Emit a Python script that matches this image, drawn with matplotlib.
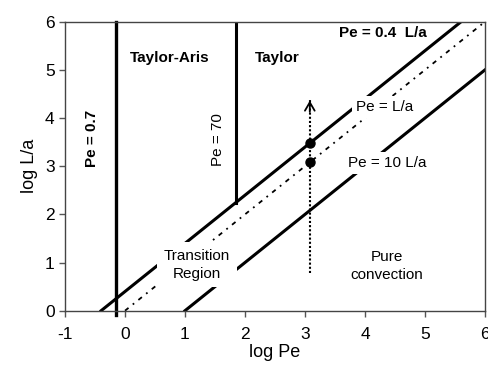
import numpy as np
import matplotlib
matplotlib.use('Agg')
import matplotlib.pyplot as plt

plt.rcParams['font.family'] = ['Liberation Sans', 'DejaVu Sans']
plt.rcParams['axes.unicode_minus'] = False

# boundary lines (log Pe = log L/a + log c)
pe_vertical = [0.7, 70]          # Pe = const boundaries
ratio_lines = [0.4, 1.0, 10.0]   # Pe = c * L/a
arrow_x = 3.08
arrow_y = [0.78, 4.37]
points_y = [3.48, 3.08]

xlim = (-1, 6)
ylim = (0, 6)

fig = plt.figure(figsize=(4.89, 3.69), dpi=100)
ax = fig.add_axes([65 / 489, 1 - 310.7 / 369, 420 / 489, 289 / 369])

# Pe = 0.4 L/a
c = -np.log10(ratio_lines[0])
ax.plot([-c, ylim[1] - c], [0, ylim[1]], color='black', lw=2.2, zorder=2)
# Pe = L/a
c1 = -np.log10(ratio_lines[1])
ax.plot([-c1, 6], [0, 6 + c1], color='black', lw=1.3, ls=(0, (2.5, 3, 1, 3)), zorder=2)
# Pe = 10 L/a
c10 = -np.log10(ratio_lines[2])
ax.plot([-c10, 6], [0, 6 + c10], color='black', lw=2.2, zorder=2)

# vertical Pe = 0.7 and Pe = 70
xv1 = np.log10(pe_vertical[0])
ax.plot([xv1, xv1], [-0.08, 6], color='black', lw=2.4, zorder=2, clip_on=False)
xv2 = np.log10(pe_vertical[1])
ax.plot([xv2, xv2], [xv2 + c, 6], color='black', lw=2.2, zorder=2)

# dotted arrow
ax.plot([arrow_x, arrow_x], arrow_y, color='black', lw=1.5, ls=(0, (1, 1)), zorder=3)
ax.annotate('', xy=(arrow_x, arrow_y[1] + 0.05), xytext=(arrow_x, arrow_y[1] - 0.3),
            arrowprops=dict(arrowstyle='->,head_length=0.6,head_width=0.35',
                            color='black', lw=1.3), zorder=3)
ax.plot([arrow_x] * len(points_y), points_y, 'o', color='black', ms=6.5, zorder=4)

fs = 11
ax.text(0.75, 5.24, 'Taylor-Aris', ha='center', va='center', fontsize=fs,
        fontweight='bold')
ax.text(2.53, 5.24, 'Taylor', ha='center', va='center', fontsize=fs,
        fontweight='bold')
ax.text(-0.55, 3.58, 'Pe = 0.7', ha='center', va='center', fontsize=fs,
        fontweight='bold', rotation=90)
ax.text(1.55, 3.55, 'Pe = 70', ha='center', va='center', fontsize=fs,
        rotation=90)
ax.text(1.2, 0.95, 'Transition\nRegion', ha='center', va='center', fontsize=fs,
        linespacing=1.3, zorder=5,
        bbox=dict(facecolor='white', edgecolor='none', pad=5))
ax.text(4.37, 0.93, 'Pure\nconvection', ha='center', va='center', fontsize=fs,
        linespacing=1.3, zorder=5)
ax.text(4.37, 3.06, 'Pe = 10 L/a', ha='center', va='center', fontsize=fs,
        zorder=5, bbox=dict(facecolor='white', edgecolor='none', pad=3))
ax.text(4.33, 4.23, 'Pe = L/a', ha='center', va='center', fontsize=fs,
        zorder=5, bbox=dict(facecolor='white', edgecolor='none', pad=3))
ax.text(4.3, 5.76, 'Pe = 0.4  L/a', ha='center', va='center', fontsize=fs,
        fontweight='bold', zorder=5)

ax.set_xlim(*xlim)
ax.set_ylim(*ylim)
ax.set_xticks(range(-1, 7))
ax.set_yticks(range(0, 7))
ax.tick_params(axis='x', pad=8)
ax.tick_params(direction='out', length=4, width=1, labelsize=12.5,
               color='#555555')
for s in ax.spines.values():
    s.set_linewidth(1)
    s.set_color('#444444')
ax.set_xlabel('log Pe', fontsize=13, labelpad=1)
ax.set_ylabel('log L/a', fontsize=13, labelpad=5)

fig.savefig('out.png', dpi=100)
